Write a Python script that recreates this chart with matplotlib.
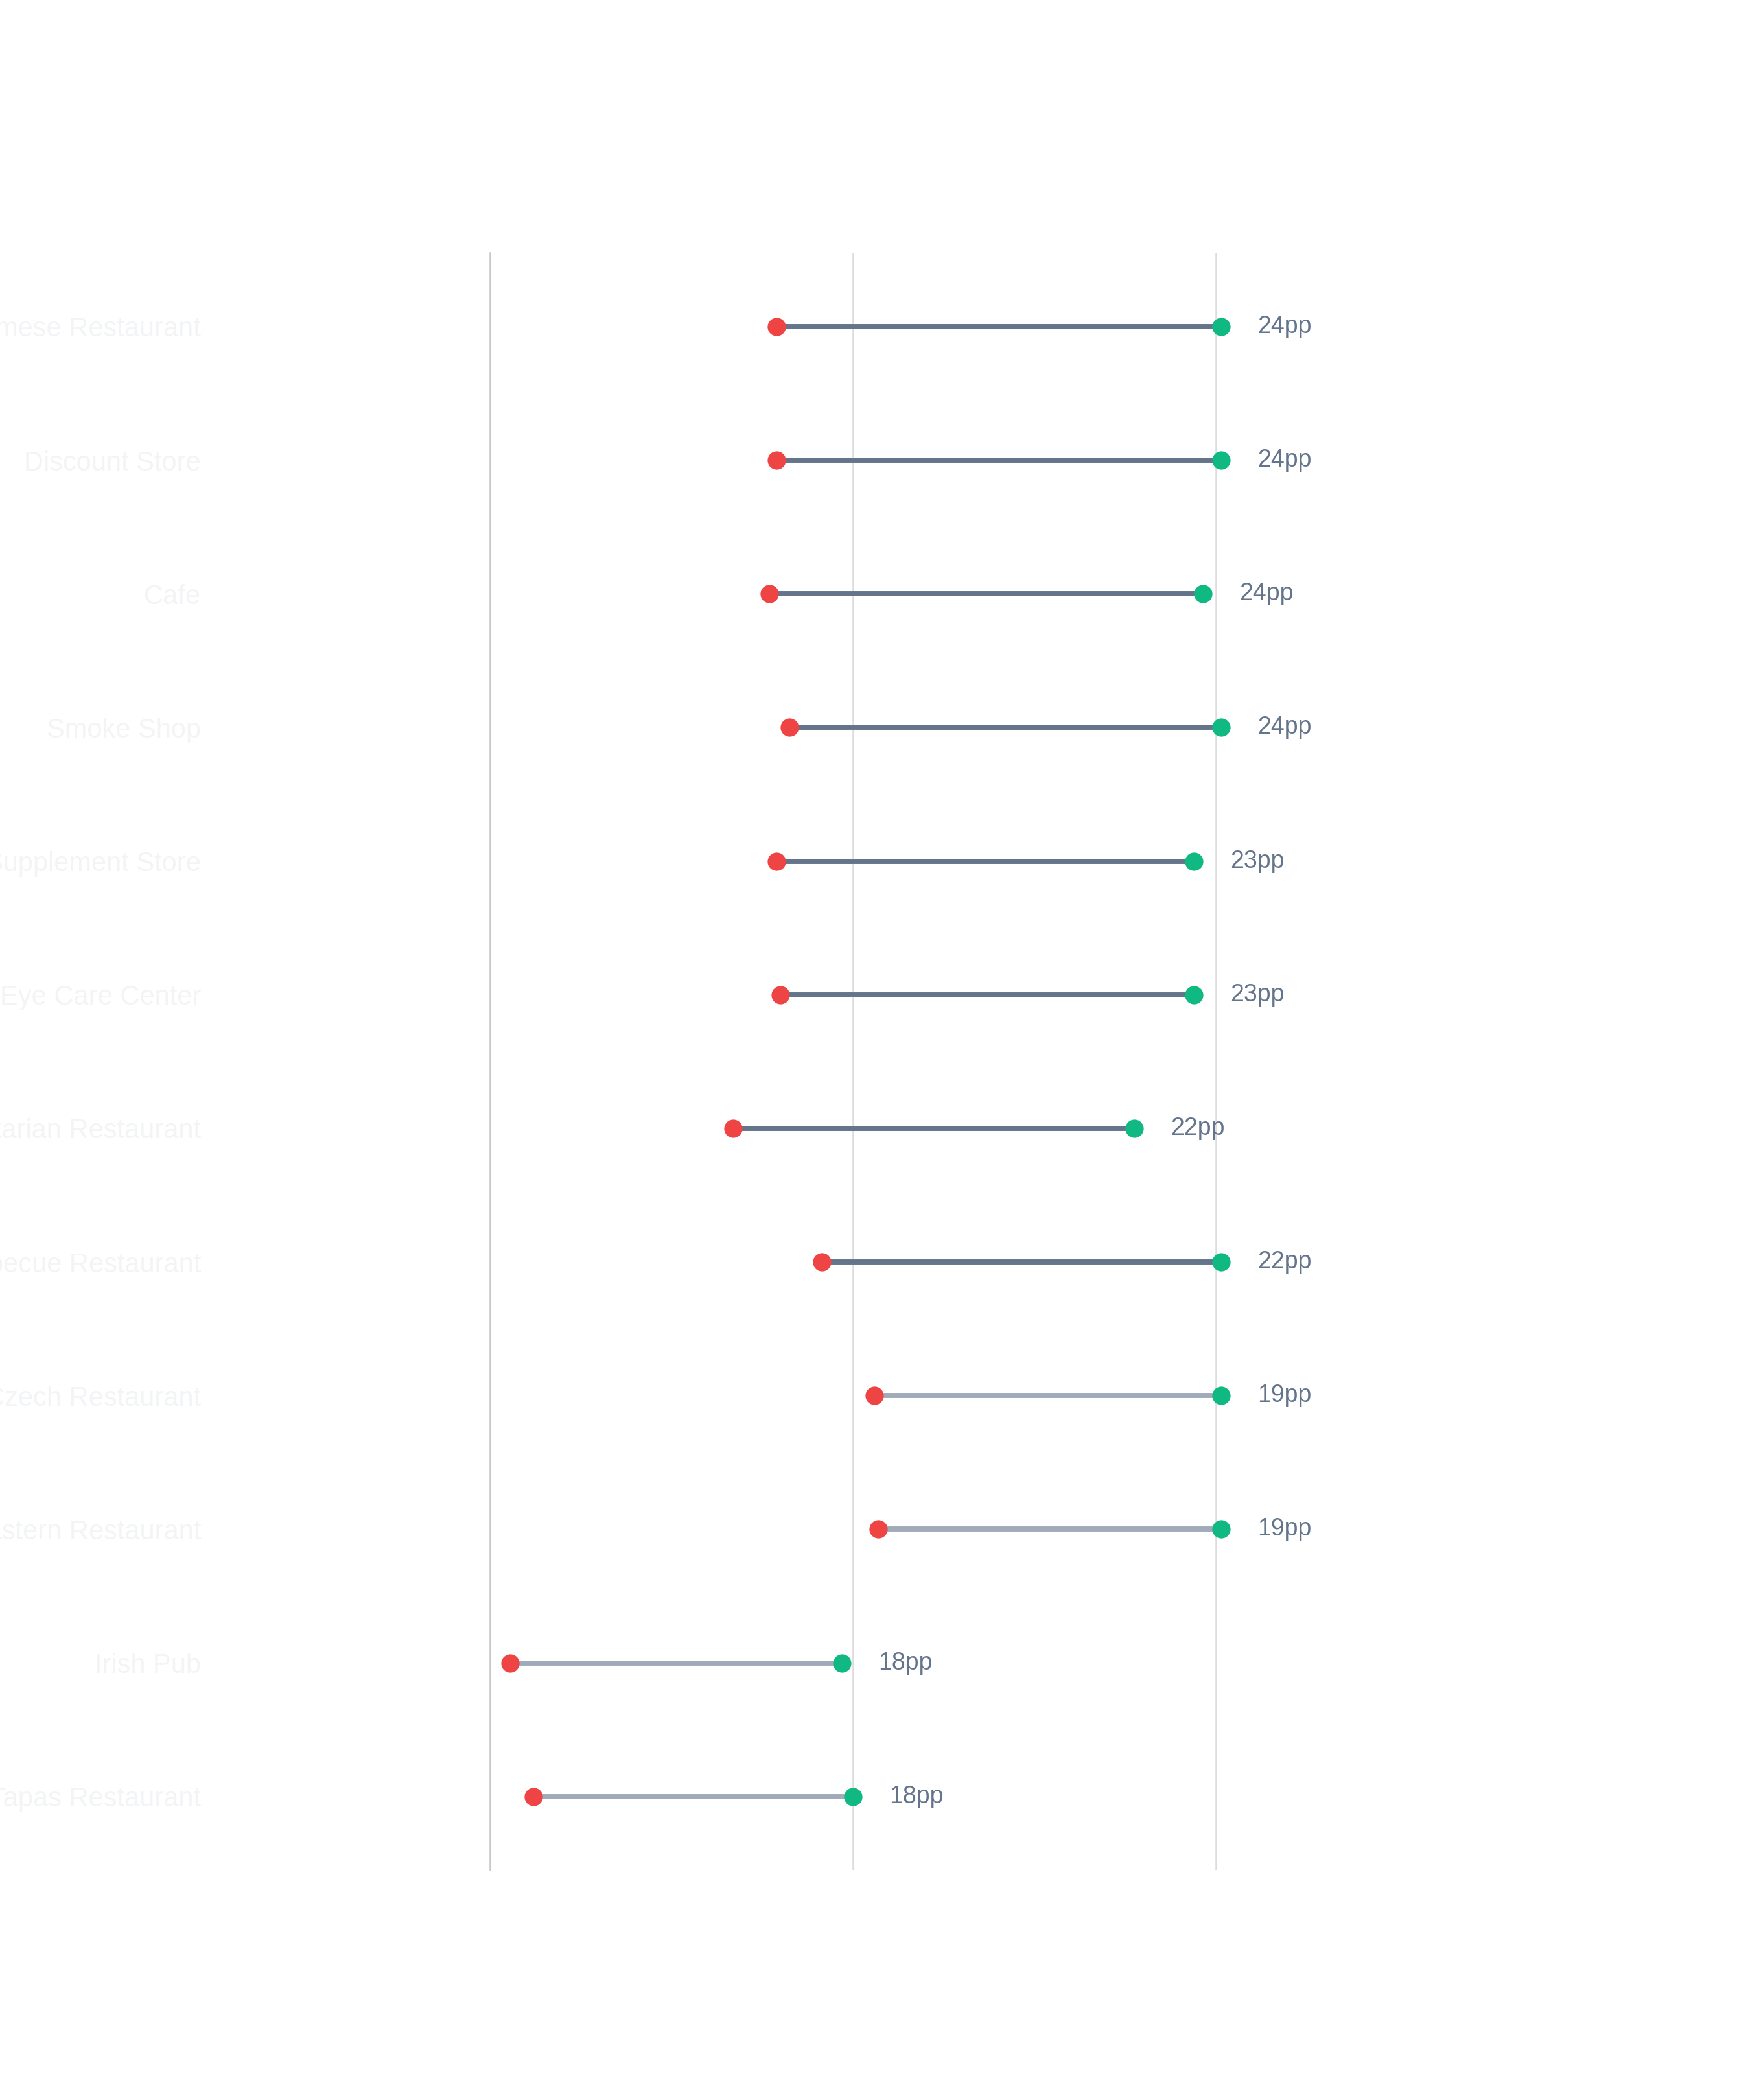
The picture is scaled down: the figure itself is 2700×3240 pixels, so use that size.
import matplotlib.pyplot as plt

plt.rcParams['font.family'] = ['Liberation Sans', 'DejaVu Sans']

# categories, top to bottom
categories = ['Vietnamese Restaurant', 'Discount Store', 'Cafe', 'Smoke Shop',
              'Supplement Store', 'Eye Care Center', 'Vegetarian Restaurant',
              'Barbecue Restaurant', 'Czech Restaurant', 'Middle Eastern Restaurant',
              'Irish Pub', 'Tapas Restaurant']
# low (red) and high (green) ends
low_vals = [55.8, 55.8, 55.4, 56.5, 55.8, 56.0, 53.4, 58.3, 61.2, 61.4, 41.1, 42.4]
high_vals = [80.3, 80.3, 79.3, 80.3, 78.8, 78.8, 75.5, 80.3, 80.3, 80.3, 59.4, 60.0]
gap_labels = [24, 24, 24, 24, 23, 23, 22, 22, 19, 19, 18, 18]
grid_ticks = [40, 60, 80]

RED = '#ef4444'
GREEN = '#10b981'
DARK_LINE = '#64748b'
LIGHT_LINE = '#a0aab8'
TEXT = '#64748b'

fig = plt.figure(figsize=(9, 10.8), dpi=300)
ax = fig.add_axes([0.2800, 0.1095, 0.622, 0.770])

ys = list(range(len(categories)))
for y, lo, hi, gap in zip(ys, low_vals, high_vals, gap_labels):
    col = DARK_LINE if gap >= 20 else LIGHT_LINE
    ax.plot([lo, hi], [y, y], color=col, lw=1.9, zorder=2, solid_capstyle='butt')
    ax.annotate(f'{gap}pp', (hi, y), xytext=(13.5, 0), textcoords='offset points',
                ha='left', va='center', fontsize=9, color=TEXT)

ax.scatter(low_vals, ys, s=46, color=RED, zorder=3, linewidths=0)
ax.scatter(high_vals, ys, s=46, color=GREEN, zorder=3, linewidths=0)

ax.set_xlim(40, 100)
ax.set_ylim(len(categories) - 0.45, -0.55)
ax.set_xticks(grid_ticks)
ax.set_xticklabels([])
ax.tick_params(axis='x', length=0)
ax.grid(axis='x', color='#dcdcdc', lw=0.6, zorder=0)
ax.set_axisbelow(True)

ax.set_yticks(ys)
ax.set_yticklabels(categories, fontsize=10, color='#f3f4f6')
ax.tick_params(axis='y', length=0, pad=107)

for side in ['top', 'right', 'bottom']:
    ax.spines[side].set_visible(False)
ax.spines['left'].set_color('#c8c8c8')
ax.spines['left'].set_linewidth(0.6)

fig.savefig('out.png', dpi=300, facecolor='white')
